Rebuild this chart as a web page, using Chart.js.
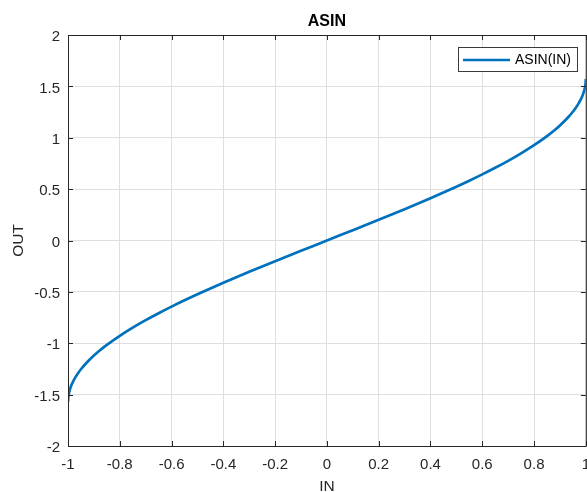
<!DOCTYPE html>
<html>
<head>
<meta charset="utf-8">
<script src="https://cdn.jsdelivr.net/npm/chart.js@4/dist/chart.umd.min.js"></script>
<style>
  html, body { margin: 0; padding: 0; background: #fff; overflow: hidden; }
  #wrap { width: 587px; height: 492px; overflow: hidden; }
  canvas { display: block; }
</style>
</head>
<body>
<div id="wrap"><canvas id="c" width="600" height="492"></canvas></div>
<script>
// Input samples (denser near the ends where the curve turns steeply)
const inValues = [
  -1, -0.999, -0.997, -0.995, -0.99, -0.985, -0.98, -0.97, -0.96, -0.95, -0.93, -0.9, -0.88, -0.85,
  -0.8, -0.75, -0.7, -0.65, -0.6, -0.55, -0.5, -0.45, -0.4, -0.35, -0.3, -0.25, -0.2, -0.15, -0.1, -0.05,
  0, 0.05, 0.1, 0.15, 0.2, 0.25, 0.3, 0.35, 0.4, 0.45, 0.5, 0.55, 0.6, 0.65, 0.7, 0.75, 0.8,
  0.85, 0.88, 0.9, 0.93, 0.95, 0.96, 0.97, 0.98, 0.985, 0.99, 0.995, 0.997, 0.999, 1
];
// Output samples
const outValues = [
  -1.5708, -1.5261, -1.4934, -1.4706, -1.4293, -1.3975, -1.3705, -1.3252, -1.2870, -1.2532, -1.1948, -1.1198, -1.0759, -1.0160,
  -0.9273, -0.8481, -0.7754, -0.7076, -0.6435, -0.5824, -0.5236, -0.4668, -0.4115, -0.3576, -0.3047, -0.2527, -0.2014, -0.1506, -0.1002, -0.0500,
  0, 0.0500, 0.1002, 0.1506, 0.2014, 0.2527, 0.3047, 0.3576, 0.4115, 0.4668, 0.5236, 0.5824, 0.6435, 0.7076, 0.7754, 0.8481, 0.9273,
  1.0160, 1.0759, 1.1198, 1.1948, 1.2532, 1.2870, 1.3252, 1.3705, 1.3975, 1.4293, 1.4706, 1.4934, 1.5261, 1.5708
];
const xTickStep = 0.2;
const yTickStep = 0.5;

const seriesName = 'ASIN(IN)';
const chartTitle = 'ASIN';
const xLabel = 'IN';
const yLabel = 'OUT';

const AXIS = '#262626';
const GRID = '#dfdfdf';
const LINE = '#0072BD';
const FONT = '"Liberation Sans", Arial, Helvetica, sans-serif';

const points = inValues.map((x, i) => ({ x: x, y: outValues[i] }));

// Box, inward ticks, title, axis labels and legend
const decor = {
  id: 'decor',
  afterDraw(chart) {
    const { ctx, chartArea: a, scales } = chart;
    const xs = scales.x, ys = scales.y;
    ctx.save();
    ctx.strokeStyle = AXIS;
    ctx.lineWidth = 1;
    ctx.beginPath();
    ctx.moveTo(a.left + 0.5, a.top + 0.5);
    ctx.lineTo(a.right + 0.5, a.top + 0.5);
    ctx.lineTo(a.right + 0.5, a.bottom + 0.5);
    ctx.lineTo(a.left + 0.5, a.bottom + 0.5);
    ctx.lineTo(a.left + 0.5, a.top + 0.5);
    ctx.stroke();
    const tl = 5;
    ctx.beginPath();
    xs.ticks.forEach(t => {
      const px = Math.round(xs.getPixelForValue(t.value)) + 0.5;
      ctx.moveTo(px, a.bottom); ctx.lineTo(px, a.bottom - tl);
      ctx.moveTo(px, a.top); ctx.lineTo(px, a.top + tl);
    });
    ys.ticks.forEach(t => {
      const py = Math.round(ys.getPixelForValue(t.value)) + 0.5;
      ctx.moveTo(a.left, py); ctx.lineTo(a.left + tl, py);
      ctx.moveTo(a.right, py); ctx.lineTo(a.right - tl, py);
    });
    ctx.stroke();

    // title
    ctx.fillStyle = '#000';
    ctx.textAlign = 'center';
    ctx.textBaseline = 'middle';
    ctx.font = 'bold 16px ' + FONT;
    ctx.fillText(chartTitle, (a.left + a.right) / 2, 22);

    // axis labels
    ctx.fillStyle = AXIS;
    ctx.font = '15.5px ' + FONT;
    ctx.fillText(xLabel, (a.left + a.right) / 2, 487);
    ctx.save();
    ctx.translate(19, (a.top + a.bottom) / 2);
    ctx.rotate(-Math.PI / 2);
    ctx.fillText(yLabel, 0, 0);
    ctx.restore();

    // legend
    const bx = 458.5, by = 47.5, bw = 119, bh = 24;
    ctx.fillStyle = '#fff';
    ctx.fillRect(bx, by, bw, bh);
    ctx.strokeStyle = '#3a3a3a';
    ctx.strokeRect(bx, by, bw, bh);
    ctx.strokeStyle = LINE;
    ctx.lineWidth = 2.7;
    ctx.beginPath();
    ctx.moveTo(463, 60); ctx.lineTo(510, 60);
    ctx.stroke();
    ctx.fillStyle = '#000';
    ctx.textAlign = 'left';
    ctx.font = '14px ' + FONT;
    ctx.fillText(seriesName, 515, 60);
    ctx.restore();
  }
};

const fmt = v => String(Math.round(v * 10) / 10);

new Chart(document.getElementById('c'), {
  type: 'line',
  data: {
    datasets: [{
      label: seriesName,
      data: points,
      borderColor: LINE,
      borderWidth: 2.7,
      pointRadius: 0,
      fill: false,
      cubicInterpolationMode: 'monotone'
    }]
  },
  options: {
    responsive: false,
    animation: false,
    devicePixelRatio: 1,
    parsing: false,
    layout: { padding: { top: 35, right: 12, left: 0, bottom: 0 } },
    plugins: { legend: { display: false }, title: { display: false }, tooltip: { enabled: false } },
    scales: {
      x: {
        type: 'linear', min: -1, max: 1,
        afterFit(s) { s.height = 46; },
        ticks: { stepSize: xTickStep, callback: fmt, color: AXIS, font: { family: FONT, size: 15 }, padding: 10, maxRotation: 0, autoSkip: false },
        grid: { color: GRID, drawTicks: false },
        border: { color: AXIS }
      },
      y: {
        type: 'linear', min: -2, max: 2,
        afterFit(s) { s.width = 68; },
        ticks: { stepSize: yTickStep, callback: fmt, color: AXIS, font: { family: FONT, size: 15 }, padding: 8, labelOffset: 2 },
        grid: { color: GRID, drawTicks: false },
        border: { color: AXIS }
      }
    }
  },
  plugins: [decor]
});
</script>
</body>
</html>
